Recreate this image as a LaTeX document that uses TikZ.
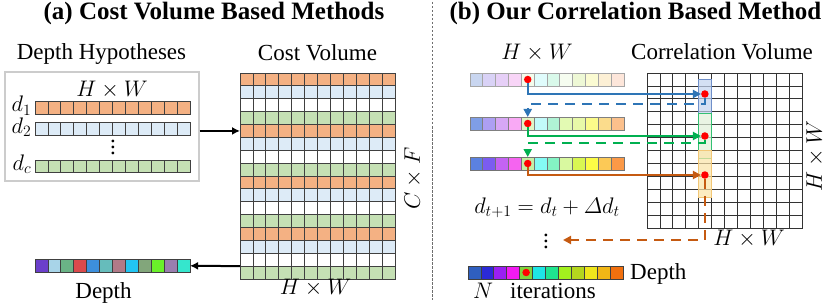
\RequirePackage{fix-cm}
\documentclass[tikz,border=0pt]{standalone}
\usepackage{amsmath}
\usepackage{fontspec}
\setmainfont{Liberation Serif}
\usetikzlibrary{arrows.meta}
\definecolor{cvorange}{HTML}{F4B183}
\definecolor{cvblue}{HTML}{DDEBF7}
\definecolor{cvgreen}{HTML}{C5E0B4}
\definecolor{arblue}{HTML}{2E75B6}
\definecolor{argreen}{HTML}{00B050}
\definecolor{arorange}{HTML}{C55A11}
\definecolor{dotred}{HTML}{FF0000}
\definecolor{sepgray}{HTML}{6E6E6E}
\definecolor{hlblue}{HTML}{C3D3EE}
\definecolor{hlblueline}{HTML}{6F8FC9}
\definecolor{hlgreen}{HTML}{E2F0D9}
\definecolor{hlyellow}{HTML}{FCE4A8}
\definecolor{hlyellowline}{HTML}{F2C777}
\colorlet{cv0}{cvorange}
\colorlet{cv1}{cvblue}
\colorlet{cv2}{white}
\colorlet{cv3}{cvgreen}
\newcommand{\vdts}{\vbox{\baselineskip=6pt\lineskiplimit=0pt\hbox{.}\hbox{.}\hbox{.}}}
\tikzset{
  cell/.style={draw=black!75,line width=.8pt,minimum width=12.92pt,minimum height=12.5pt,inner sep=0pt,outer sep=0pt},
  txt/.style={font=\fontsize{23}{27}\selectfont,inner sep=0pt},
  mth/.style={font=\fontsize{22.5}{26}\selectfont,inner sep=0pt},
  ttl/.style={font=\fontsize{25}{30}\selectfont\bfseries,inner sep=0pt},
  arr/.style={-{Latex[length=8pt,width=8pt]},line width=2pt},
  flow/.style={-{Triangle[length=8pt,width=8pt]},line width=2.2pt},
  dashflow/.style={flow,dash pattern=on 10pt off 7pt},
  reddot/.style={circle,fill=dotred,minimum size=7.5pt,inner sep=0pt},
  hlband/.style={line width=1pt,minimum width=13pt,inner sep=0pt,fill opacity=.7},
}
\begin{document}
\begin{tikzpicture}[x=1pt,y=-1pt]
  \useasboundingbox (0,0) rectangle (831,305);
  \node[ttl,anchor=base] (ta) at (214,20) {(a) Cost Volume Based Methods};
  \node[ttl,anchor=base] (tb) at (635.5,20) {(b) Our Correlation Based Method};
  \draw[sepgray,line width=.8pt,dash pattern=on 2.5pt off 1.5pt] (432,2) -- (432,300);

  % (a) cost volume
  \node[draw=black!20,line width=1.2pt,minimum width=194pt,minimum height=109pt,inner sep=0pt] (hyp) at (102,126.5) {};
  \node[txt,anchor=base] (hyplbl) at (101.5,59.5) {Depth Hypotheses};
  \node[mth,anchor=base] (hypsz) at (112,96) {$H\times W$};
  \foreach \i in {1,...,12}{
    \node[cell,fill=cvorange] (d1-\i) at ({35+(\i-.5)*12.92},107.9) {};
    \node[cell,fill=cvblue] (d2-\i) at ({35+(\i-.5)*12.92},128.9) {};
    \node[cell,fill=cvgreen] (dc-\i) at ({35+(\i-.5)*12.92},166.3) {};
  }
  \node[mth,anchor=base east] (l1) at (31.5,112) {$d_1$};
  \node[mth,anchor=base east] (l2) at (31.5,133) {$d_2$};
  \node[mth,anchor=base east] (lc) at (31.5,170) {$d_c$};
  \node[txt] (vd1) at (113,147) {\vdts};

  \foreach \r [evaluate=\r as \k using {int(mod(\r-1,4))}] in {1,...,16}
    \foreach \c in {1,...,12}
      \node[cell,fill=cv\k,minimum height=12.875pt] (cv-\r-\c) at ({240+(\c-.5)*12.92},{73+(\r-.5)*12.875}) {};
  \node[txt,anchor=base] (cvlbl) at (317.5,61) {Cost Volume};
  \node[mth,anchor=base] (cvsz) at (315.5,294.5) {$H\times W$};
  \node[mth,rotate=90] (cvch) at (413,178.5) {$C\times F$};

  \foreach \hx [count=\i] in {6B3FCB,A8D4E8,6AB386,DA4A4C,3D8FDC,66BCBB,B07A88,22C5F2,82A67B,6AF02A,9A7EAF,35E6CD}{
    \definecolor{cc}{HTML}{\hx}
    \node[cell,fill=cc,minimum height=13.5pt] (dp-\i) at ({35+(\i-.5)*12.92},265.8) {};
  }
  \node[txt,anchor=base] (dplbl) at (103.5,298) {Depth};

  \draw[arr] (hyp.east |- cv-5-1.west) -- (cv-5-1.west);
  \draw[arr] (cv-15-1.south west) -- (dp-12.east);

  % (b) correlation volume
  \node[mth,anchor=base] (qsz) at (537,60) {$H\times W$};
  \node[txt,anchor=base] (crlbl) at (722,60) {Correlation Volume};
  \foreach \r in {1,...,12}
    \foreach \c in {1,...,12}
      \node[cell,draw=black!80,fill=white,minimum height=12.92pt] (cr-\r-\c) at ({647+(\c-.5)*12.92},{73+(\r-.5)*12.92}) {};
  \node[mth,rotate=90] (crch) at (815,156) {$H\times W$};
  \node[mth,anchor=base] (crsz) at (749,245.5) {$H\times W$};

  \node[hlband,draw=hlblueline,fill=hlblue,minimum height=34pt] (bb) at (704.9,97) {};
  \node[hlband,draw=argreen!80,fill=hlgreen,minimum height=44pt] (gb) at (704.9,136) {};
  \node[hlband,draw=hlyellowline,fill=hlyellow,minimum height=47pt] (yb) at (704.9,173.5) {};

  \foreach \hx [count=\i] in {C9D6F0,D9D2F6,E6CFF7,F8D5F7,F4FCEC,E0FCFC,D9F9EA,F6FDF0,EEF8D5,FBFBD2,FDF0D5,FDE6DA}{
    \definecolor{cc}{HTML}{\hx}
    \node[cell,draw=black!35,fill=cc,minimum width=12.83pt,minimum height=13pt] (q1-\i) at ({470+(\i-.5)*12.83},79.5) {};
  }
  \foreach \hx [count=\i] in {7F9EE6,AD9FF3,D7A7F5,F9A9F5,E0F5C5,C2FAFA,B0F3D5,E3FAB3,E8F9A8,FBFB8A,FBDC8C,FBC08C}{
    \definecolor{cc}{HTML}{\hx}
    \node[cell,draw=black!50,fill=cc,minimum width=12.83pt,minimum height=13pt] (q2-\i) at ({470+(\i-.5)*12.83},123.5) {};
  }
  \foreach \hx [count=\i] in {5B81E0,7B5CF1,C463F3,F564F0,C5F0A5,84FBF4,84F3C4,D9F9A0,D9F752,FCFC46,FCC956,FB9947}{
    \definecolor{cc}{HTML}{\hx}
    \node[cell,draw=black!55,fill=cc,minimum width=12.83pt,minimum height=13pt] (q3-\i) at ({470+(\i-.5)*12.83},163.5) {};
  }
  \foreach \hx [count=\i] in {2F5FC0,2B2AD8,9A1FF2,F21AF2,7FD43D,1EE6E6,1FE58F,A3F01E,B4D61E,EFE61C,F1B616,F1700E}{
    \definecolor{cc}{HTML}{\hx}
    \node[cell,fill=cc,minimum width=12.92pt,minimum height=13pt] (qd-\i) at ({468+(\i-.5)*12.92},272.5) {};
  }

  \node[reddot] (r1) at (q1-5) {};
  \node[reddot] (r2) at (q2-5) {};
  \node[reddot] (r3) at (q3-5) {};
  \node[reddot] (rd) at (qd-5) {};
  \node[reddot] (c1) at (704.9,94) {};
  \node[reddot] (c2) at (704.9,136) {};
  \node[reddot] (c3) at (704.9,175) {};

  \node[mth,anchor=base] (upd) at (547,213) {$d_{t+1}=d_t+\varDelta d_t$};
  \node[txt] (vd2) at (546,241) {\vdts};
  \coordinate (back) at (563,240);

  \draw[flow,arblue] (r1) |- (c1);
  \draw[dashflow,arblue] (c1) -- ++(0,10) -| (q2-5.north);
  \draw[flow,argreen] (r2) |- (c2);
  \draw[dashflow,argreen] (c2) -- ++(0,7) -| (q3-5.north);
  \draw[flow,arorange] (r3) |- (c3);
  \draw[dashflow,arorange] (c3) |- (back);

  \node[txt,anchor=base west] (qdlbl) at (630,279) {Depth};
  \node[mth,anchor=base] (nlbl) at (483,298) {$N$};
  \node[txt,anchor=base west] (itlbl) at (510,298) {iterations};
\end{tikzpicture}
\end{document}
